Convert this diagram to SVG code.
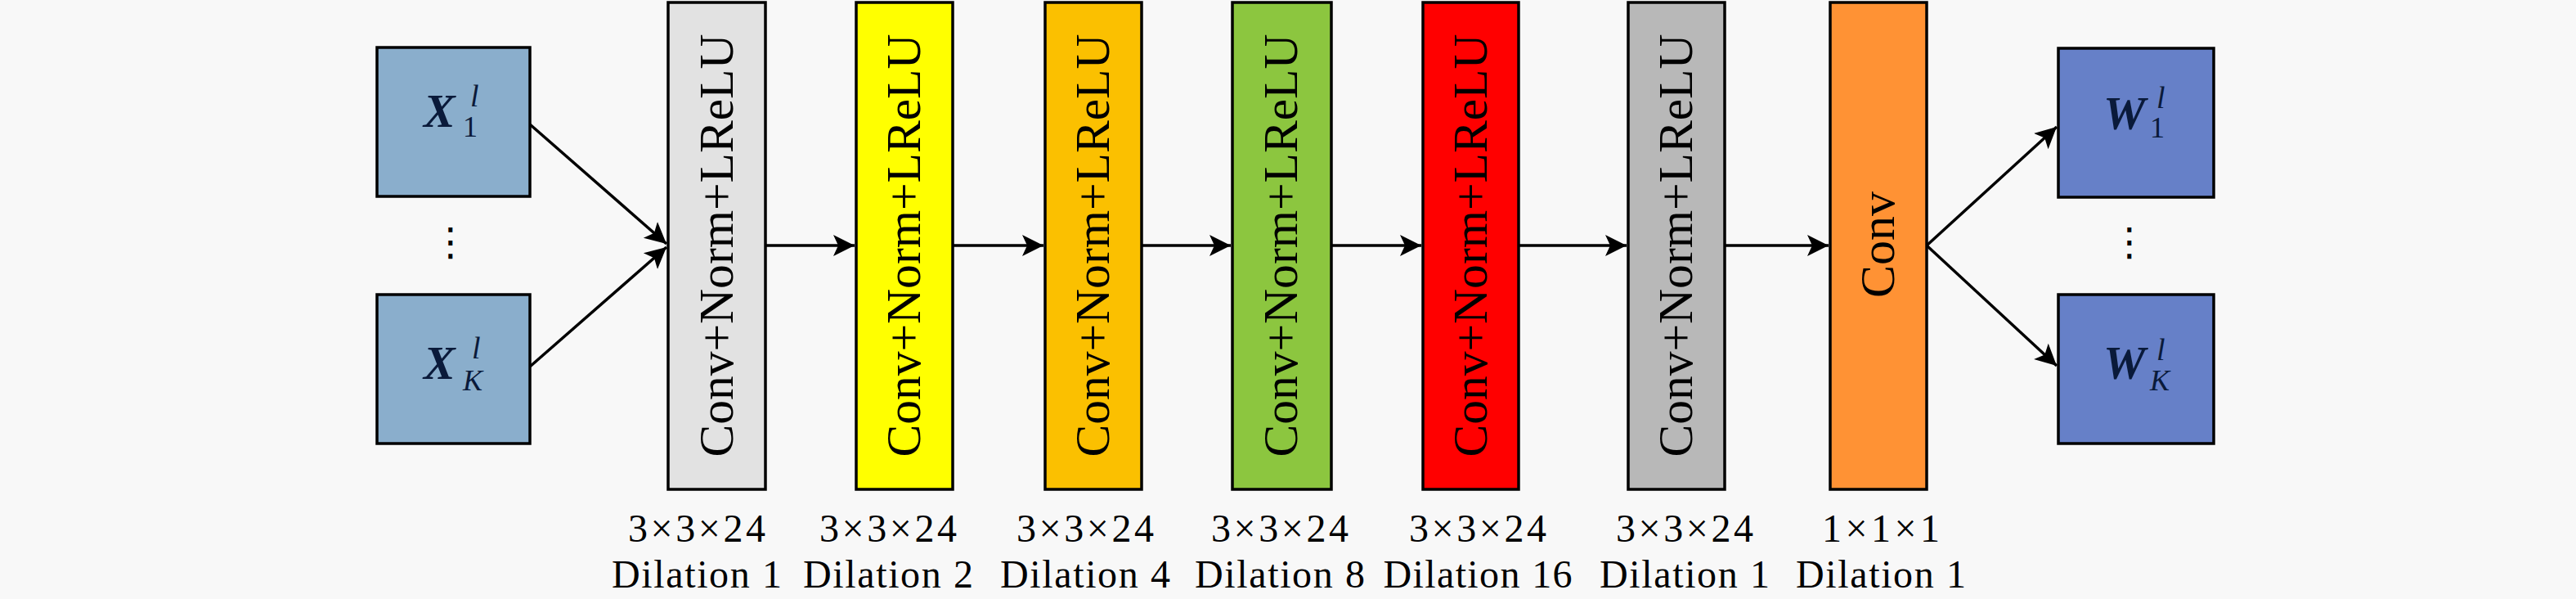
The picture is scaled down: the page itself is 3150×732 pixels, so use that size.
<svg xmlns="http://www.w3.org/2000/svg" width="3150" height="732" viewBox="0 0 3150 732">
<defs>
<style>
.box{stroke:#000;stroke-width:3.5}
.lbl{font-family:"Liberation Serif",serif;font-size:60px;fill:#000;text-anchor:middle}
.cap{font-family:"Liberation Serif",serif;font-size:48px;fill:#000;text-anchor:middle}
.m{font-family:"Liberation Serif",serif;fill:#0a1a3a}
.big{font-size:58px;font-weight:bold;font-style:italic}
.sup{font-size:38px;font-style:italic}
.sub{font-size:36px}
.subi{font-size:36px;font-style:italic}
.dots{font-family:"DejaVu Sans",sans-serif;font-size:48px;fill:#000;text-anchor:middle}
.con{fill:none;stroke:#000;stroke-width:3.5;marker-end:url(#ah)}
</style>
<marker id="ah" markerUnits="userSpaceOnUse" markerWidth="28" markerHeight="28" refX="26" refY="13" orient="auto" viewBox="0 0 28 26">
<path d="M0,0 L26,13 L0,26 L6,13 z" fill="#000"/>
</marker>
</defs>
<rect x="0" y="0" width="3150" height="732" fill="#f8f8f8"/>

<g id="in1"><rect class="box" x="461" y="58" width="187" height="182" fill="#8aaecc"/>
<text class="m big" x="518" y="155">X</text><text class="m sup" x="575" y="130">l</text><text class="m sub" x="566" y="167">1</text></g>
<g id="indots"><text class="dots" x="551" y="312">⋮</text></g>
<g id="inK"><rect class="box" x="461" y="360" width="187" height="182" fill="#8aaecc"/>
<text class="m big" x="518" y="463">X</text><text class="m sup" x="577" y="438">l</text><text class="m subi" x="566" y="477">K</text></g>

<g id="b1"><rect class="box" x="817" y="3" width="119" height="595" fill="#e2e2e2"/>
<text class="lbl" transform="translate(896,300) rotate(-90)" textLength="517" lengthAdjust="spacingAndGlyphs">Conv+Norm+LReLU</text></g>
<g id="b2"><rect class="box" x="1047" y="3" width="118" height="595" fill="#ffff00"/>
<text class="lbl" transform="translate(1125,300) rotate(-90)" textLength="517" lengthAdjust="spacingAndGlyphs">Conv+Norm+LReLU</text></g>
<g id="b3"><rect class="box" x="1278" y="3" width="118" height="595" fill="#fbc000"/>
<text class="lbl" transform="translate(1356,300) rotate(-90)" textLength="517" lengthAdjust="spacingAndGlyphs">Conv+Norm+LReLU</text></g>
<g id="b4"><rect class="box" x="1507" y="3" width="121" height="595" fill="#8cc63f"/>
<text class="lbl" transform="translate(1586,300) rotate(-90)" textLength="517" lengthAdjust="spacingAndGlyphs">Conv+Norm+LReLU</text></g>
<g id="b5"><rect class="box" x="1740" y="3" width="117" height="595" fill="#ff0000"/>
<text class="lbl" transform="translate(1818,300) rotate(-90)" textLength="517" lengthAdjust="spacingAndGlyphs">Conv+Norm+LReLU</text></g>
<g id="b6"><rect class="box" x="1991" y="3" width="118" height="595" fill="#b8b8b8"/>
<text class="lbl" transform="translate(2069,300) rotate(-90)" textLength="517" lengthAdjust="spacingAndGlyphs">Conv+Norm+LReLU</text></g>
<g id="b7"><rect class="box" x="2238" y="3" width="118" height="595" fill="#ff9234"/>
<text class="lbl" transform="translate(2316,299) rotate(-90)">Conv</text></g>

<g id="out1"><rect class="box" x="2517" y="59" width="190" height="182" fill="#6680c8"/>
<text class="m big" x="2572" y="158">W</text><text class="m sup" x="2637" y="132">l</text><text class="m sub" x="2629" y="168">1</text></g>
<g id="outdots"><text class="dots" x="2604" y="312">⋮</text></g>
<g id="outK"><rect class="box" x="2517" y="360" width="190" height="182" fill="#6680c8"/>
<text class="m big" x="2572" y="463">W</text><text class="m sup" x="2637" y="440">l</text><text class="m subi" x="2629" y="477">K</text></g>

<g id="caps">
<text class="cap" x="852" y="662" textLength="168">3×3×24</text><text class="cap" x="852" y="718" textLength="208">Dilation 1</text>
<text class="cap" x="1086" y="662" textLength="168">3×3×24</text><text class="cap" x="1086" y="718" textLength="208">Dilation 2</text>
<text class="cap" x="1327" y="662" textLength="168">3×3×24</text><text class="cap" x="1327" y="718" textLength="208">Dilation 4</text>
<text class="cap" x="1565" y="662" textLength="168">3×3×24</text><text class="cap" x="1565" y="718" textLength="208">Dilation 8</text>
<text class="cap" x="1807" y="662" textLength="168">3×3×24</text><text class="cap" x="1807" y="718" textLength="231">Dilation 16</text>
<text class="cap" x="2060" y="662" textLength="168">3×3×24</text><text class="cap" x="2060" y="718" textLength="208">Dilation 1</text>
<text class="cap" x="2300" y="662" textLength="144">1×1×1</text><text class="cap" x="2300" y="718" textLength="208">Dilation 1</text>
</g>

<g id="connectors">
<path class="con" d="M648,152 L815,298"/>
<path class="con" d="M648,448 L815,302"/>
<path class="con" d="M936,300 L1045,300"/>
<path class="con" d="M1165,300 L1276,300"/>
<path class="con" d="M1396,300 L1505,300"/>
<path class="con" d="M1628,300 L1738,300"/>
<path class="con" d="M1857,300 L1989,300"/>
<path class="con" d="M2109,300 L2236,300"/>
<path class="con" d="M2356,300 L2515,155"/>
<path class="con" d="M2356,300 L2515,447"/>
</g>
</svg>
